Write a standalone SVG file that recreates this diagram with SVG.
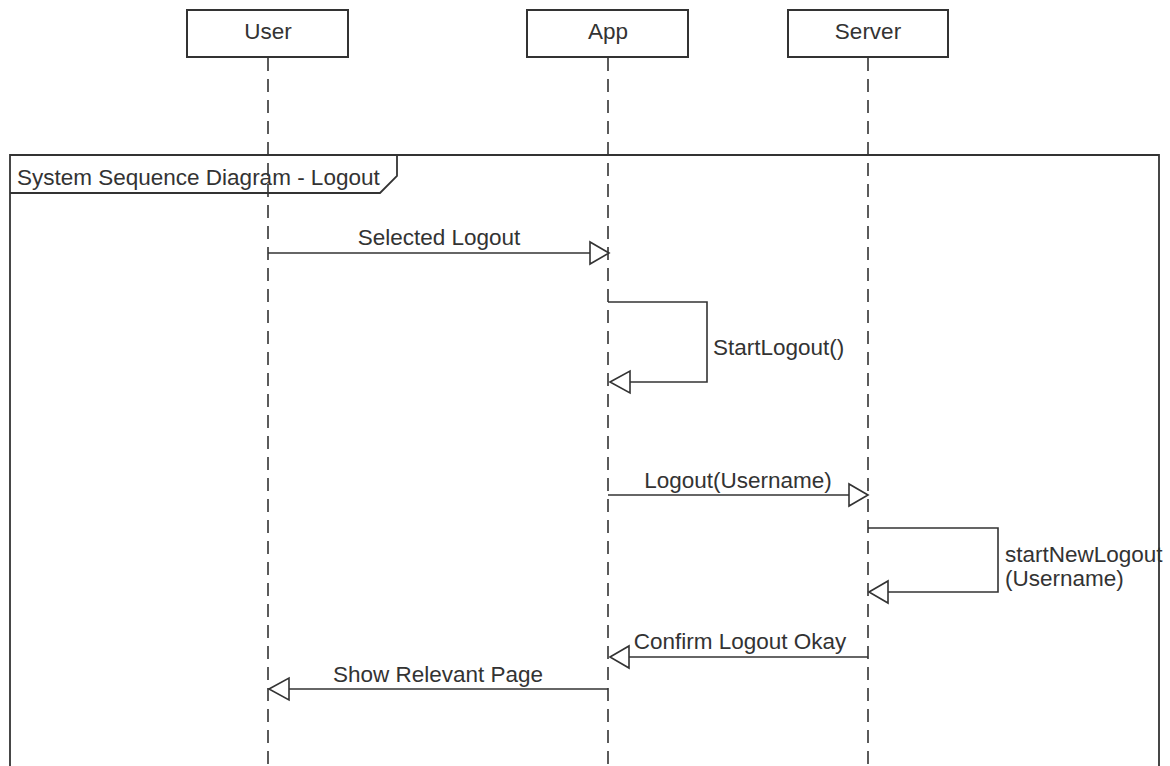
<svg xmlns="http://www.w3.org/2000/svg" width="1170" height="766" viewBox="0 0 1170 766">
  <defs>
    <style>
      .box { fill: #ffffff; stroke: #333333; stroke-width: 2; }
      .life { fill: none; stroke: #333333; stroke-width: 1.6; stroke-dasharray: 13 8; }
      .frame { fill: none; stroke: #333333; stroke-width: 1.8; }
      .msg { fill: none; stroke: #333333; stroke-width: 1.6; }
      .head { fill: #ffffff; stroke: #333333; stroke-width: 1.6; }
      text { font-family: "Liberation Sans", Arial, sans-serif; font-size: 22.5px; fill: #333333; }
      .c { text-anchor: middle; }
    </style>
  </defs>
  <rect width="1170" height="766" fill="#ffffff"/>

  <!-- combined fragment frame -->
  <g id="frame">
    <path class="frame" d="M10,766 V155 H1159 V766"/>
    <path class="frame" d="M10,193 H380 L397,176 V155"/>
    <text x="17" y="185">System Sequence Diagram - Logout</text>
  </g>

  <!-- lifelines -->
  <g id="user">
    <line class="life" x1="268" y1="58" x2="268" y2="766"/>
    <rect class="box" x="187" y="10" width="161" height="47"/>
    <text class="c" x="268" y="39">User</text>
  </g>
  <g id="app">
    <line class="life" x1="608" y1="58" x2="608" y2="766"/>
    <rect class="box" x="527" y="10" width="161" height="47"/>
    <text class="c" x="608" y="39">App</text>
  </g>
  <g id="server">
    <line class="life" x1="868" y1="58" x2="868" y2="766"/>
    <rect class="box" x="788" y="10" width="160" height="47"/>
    <text class="c" x="868" y="39">Server</text>
  </g>

  <!-- messages -->
  <g id="connectors">
    <!-- User -> App -->
    <line class="msg" x1="268" y1="253" x2="590" y2="253"/>
    <polygon class="head" points="609,253 590,242 590,264"/>
    <text class="c" x="439" y="245">Selected Logout</text>

    <!-- App self call -->
    <path class="msg" d="M608,302 H707 V382 H630"/>
    <polygon class="head" points="610,382 630,371 630,393"/>
    <text x="713" y="355">StartLogout()</text>

    <!-- App -> Server -->
    <line class="msg" x1="608" y1="495" x2="849" y2="495"/>
    <polygon class="head" points="868,495 849,484 849,506"/>
    <text class="c" x="738" y="488">Logout(Username)</text>

    <!-- Server self call -->
    <path class="msg" d="M868,528 H998 V592 H888"/>
    <polygon class="head" points="869,592 888,581 888,603"/>
    <text x="1005" y="562">startNewLogout</text>
    <text x="1005" y="586">(Username)</text>

    <!-- Server -> App -->
    <line class="msg" x1="868" y1="657" x2="629" y2="657"/>
    <polygon class="head" points="610,657 629,646 629,668"/>
    <text class="c" x="740" y="649">Confirm Logout Okay</text>

    <!-- App -> User -->
    <line class="msg" x1="608" y1="689" x2="289" y2="689"/>
    <polygon class="head" points="269,689 289,678 289,700"/>
    <text class="c" x="438" y="682">Show Relevant Page</text>
  </g>
</svg>
